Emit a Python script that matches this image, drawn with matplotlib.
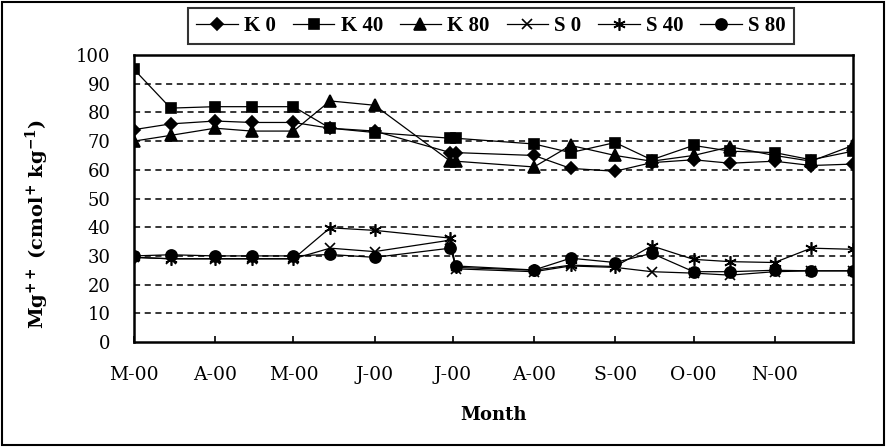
import matplotlib.pyplot as plt
import pandas as pd
from matplotlib.patches import Rectangle

dates = ['2000-03-01', '2000-03-15', '2000-04-01', '2000-04-15', '2000-05-01',
         '2000-05-15', '2000-06-01', '2000-06-30', '2000-07-02', '2000-08-01',
         '2000-08-15', '2000-09-01', '2000-09-15', '2000-10-01', '2000-10-15',
         '2000-11-01', '2000-11-15', '2000-12-01']

k0 = [74, 76, 77, 76.5, 76.5, 74.5, 73.5, 66, 66, 65, 60.5, 59.5, 62.5, 63.5, 62.3, 63, 61.5, 62]
k40 = [95, 81.5, 82, 82, 82, 74.5, 73, 71, 71, 69, 66, 69.5, 63.5, 68.5, 66.5, 66, 63.5, 66.5]
k80 = [70, 72, 74.5, 73.5, 73.5, 84, 82.5, 63, 63, 61, 68.5, 65, 63, 65, 68, 65, 63, 68.5]
s0 = [29.5, 29, 29, 29, 29, 32.7, 31.5, 35.5, 25.5, 24.5, 26.5, 26, 24.5, 24, 23.3, 24.5, 24.8, 24.8]
s40 = [29.5, 29, 29, 29, 29, 39.8, 38.9, 36.2, 26, 25, 26.8, 26.3, 33.5, 28.8, 28, 27.7, 32.7, 32.3]
s80 = [30, 30.4, 30, 30, 30, 30.5, 29.5, 32.7, 26.5, 25.1, 29.2, 27.7, 30.9, 24.5, 24.5, 25, 24.8, 24.8]

month_ticks = ['2000-03-01', '2000-04-01', '2000-05-01', '2000-06-01', '2000-07-01',
               '2000-08-01', '2000-09-01', '2000-10-01', '2000-11-01']
month_labels = ['M-00', 'A-00', 'M-00', 'J-00', 'J-00', 'A-00', 'S-00', 'O-00', 'N-00']

plt.rcParams['font.family'] = 'DejaVu Serif'
plt.rcParams['mathtext.fontset'] = 'dejavuserif'

x = pd.to_datetime(dates)

fig = plt.figure(figsize=(8.88, 4.47), dpi=100)
ax = fig.add_axes([0.1509, 0.2349, 0.8097, 0.642])

series = [
    (k0, 'D', 6.5, 'K 0'),
    (k40, 's', 7.5, 'K 40'),
    (k80, '^', 8, 'K 80'),
    (s0, 'x', 7, 'S 0'),
    (s40, (6, 2, 0), 9, 'S 40'),
    (s80, 'o', 8, 'S 80'),
]
for vals, mk, ms, lab in series:
    ax.plot(x, vals, color='black', lw=0.9, marker=mk, markersize=ms,
            markeredgewidth=1.2, label=lab)

ax.set_ylim(0, 100)
ax.set_yticks(range(0, 101, 10))
ax.set_xlim(pd.Timestamp('2000-03-01'), pd.Timestamp('2000-12-01'))
ax.set_xticks(pd.to_datetime(month_ticks))
ax.set_xticklabels(month_labels)

for yv in range(10, 100, 10):
    ax.axhline(yv, color='black', lw=1.1, ls=(0, (4, 3)), zorder=0)

for sp in ax.spines.values():
    sp.set_linewidth(1.8)

ax.tick_params(axis='y', length=0, labelsize=13, pad=17)
ax.tick_params(axis='x', direction='in', length=4, width=1.2, labelsize=13.5, pad=17)

ax.set_xlabel('Month', fontsize=13, fontweight='bold', labelpad=16)
ax.set_ylabel(r'Mg$^{\mathbf{++}}$ (cmol$^{\mathbf{+}}$ kg$^{\mathbf{-1}}$)',
              fontsize=14, fontweight='bold')
ax.yaxis.set_label_coords(-0.115, 0.41)

leg = fig.legend(loc='center', bbox_to_anchor=(0.553, 0.942), ncol=6,
                 prop={'family': 'Liberation Serif', 'weight': 'bold', 'size': 15},
                 frameon=True, fancybox=False, edgecolor='black', handlelength=2.0,
                 handletextpad=0.3, columnspacing=0.8, borderpad=0.4)
leg.get_frame().set_linewidth(1.5)

fig.patches.append(Rectangle((0.002, 0.004), 0.994, 0.992, transform=fig.transFigure,
                             fill=False, edgecolor='black', lw=1.5))

fig.savefig('out.png', dpi=100)
